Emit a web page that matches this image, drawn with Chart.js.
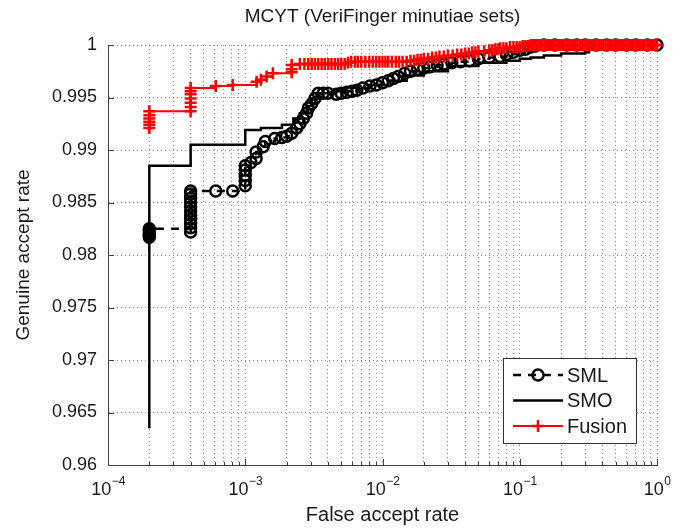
<!DOCTYPE html>
<html>
<head>
<meta charset="utf-8">
<title>MCYT ROC</title>
<script src="https://cdn.jsdelivr.net/npm/chart.js@4.4.1/dist/chart.umd.min.js"></script>
<style>
  html, body { margin: 0; padding: 0; background: #fff; }
  #wrap { width: 684px; height: 531px; }
</style>
</head>
<body>
<div id="wrap"><canvas id="rocChart" width="684" height="531"></canvas></div>
<script>
// --- data (false accept rate / genuine accept rate) ---
const smlFar = [2e-4, 2e-4, 2e-4, 2e-4, 2e-4,
  4e-4, 4e-4, 4e-4, 4e-4, 4e-4, 4e-4, 4e-4, 4e-4, 4e-4, 4e-4, 4e-4,
  6.1e-4, 8.1e-4, 1e-3, 1e-3, 1e-3, 1e-3, 1e-3,
  1.1e-3, 1.2e-3, 1.2e-3, 1.35e-3, 1.4e-3, 1.64e-3, 1.85e-3, 2.0e-3, 2.18e-3, 2.37e-3, 2.5e-3,
  2.65e-3, 2.8e-3, 2.88e-3, 3.05e-3, 3.22e-3, 3.4e-3, 3.7e-3, 4.0e-3, 4.6e-3, 5.0e-3, 5.5e-3,
  6.0e-3, 6.5e-3, 7.2e-3, 8.1e-3, 9e-3, 1e-2, 1.1e-2, 1.2e-2, 1.3e-2, 1.45e-2, 1.6e-2, 1.8e-2,
  2.0e-2, 2.2e-2, 2.5e-2, 2.8e-2, 3.2e-2, 3.7e-2, 4.3e-2, 5e-2, 6e-2, 7.2e-2, 8e-2, 9e-2, 0.1,
  0.11, 0.12, 0.13, 0.15, 0.18, 0.22, 0.26, 0.3, 0.36, 0.43, 0.5, 0.6, 0.7, 0.85, 1];
const smlGar = [0.9817, 0.9819, 0.9821, 0.9823, 0.9825,
  0.9822, 0.9826, 0.9830, 0.9834, 0.9838, 0.9842, 0.9846, 0.9850, 0.9854, 0.9858, 0.9861,
  0.9861, 0.9861, 0.9866, 0.9871, 0.9876, 0.9881, 0.9885,
  0.9888, 0.9892, 0.9898, 0.9903, 0.9908, 0.9911, 0.9912, 0.9913, 0.9916, 0.9921, 0.9925,
  0.9930, 0.9935, 0.9940, 0.9944, 0.9949, 0.9954, 0.9954, 0.9954, 0.9953, 0.9954, 0.9955,
  0.9956, 0.9957, 0.9959, 0.9961, 0.9962, 0.9964, 0.9966, 0.9968, 0.9970, 0.9973, 0.9975, 0.9977,
  0.9978, 0.9979, 0.9981, 0.9982, 0.9983, 0.9984, 0.9985, 0.9987, 0.9988, 0.9989, 0.9991, 0.9993, 0.9995,
  0.9996, 0.9998, 0.9999, 1, 1, 1, 1, 1, 1, 1, 1, 1, 1, 1, 1];

const smoFar = [2e-4, 2e-4, 4e-4, 1e-3, 1.3e-3, 1.85e-3, 2.24e-3, 2.5e-3, 2.8e-3, 3.05e-3, 3.3e-3,
  4.5e-3, 6e-3, 8e-3, 1.1e-2, 1.5e-2, 2e-2, 3e-2, 5e-2, 8e-2, 0.1, 0.12, 0.15, 0.2, 0.3, 0.32, 1];
const smoGar = [0.9635, 0.9885, 0.9905, 0.9919, 0.9921, 0.9924, 0.9930, 0.9935, 0.9942, 0.9948, 0.9954,
  0.9956, 0.9959, 0.9962, 0.9966, 0.9971, 0.9975, 0.9980, 0.9983, 0.9985, 0.9987, 0.9988, 0.9990, 0.9992, 0.9993, 1, 1];

const fusFar = [
  2e-4, 2e-4, 2e-4, 2e-4, 2e-4, 2e-4,
  4e-4, 4e-4, 4e-4, 4e-4, 4e-4, 4e-4, 4e-4,
  6.1e-4, 8.1e-4, 1.21e-3, 1.3e-3, 1.43e-3, 1.59e-3, 2.18e-3, 2.18e-3, 2.18e-3,
  2.5e-3, 2.7e-3, 2.88e-3, 3.05e-3, 3.22e-3, 3.4e-3, 3.6e-3, 3.8e-3, 4.03e-3, 4.25e-3, 4.5e-3, 4.75e-3,
  5e-3, 5.3e-3, 5.6e-3, 5.9e-3, 6.3e-3, 6.6e-3, 7e-3, 7.5e-3, 8e-3, 8.5e-3, 9e-3, 9.5e-3,
  1e-2, 1.05e-2, 1.1e-2, 1.17e-2, 1.25e-2, 1.32e-2, 1.4e-2, 1.5e-2, 1.6e-2, 1.7e-2, 1.8e-2, 1.9e-2, 2e-2,
  2.15e-2, 2.3e-2, 2.45e-2, 2.6e-2, 2.8e-2, 3e-2, 3.25e-2, 3.5e-2, 3.75e-2, 4e-2, 4.25e-2,
  4.5e-2, 4.75e-2, 5e-2, 5.5e-2, 6e-2, 6.3e-2, 6.6e-2, 6.9e-2, 7.2e-2, 7.6e-2, 8e-2,
  8.5e-2, 9e-2, 9.5e-2, 0.1, 0.105, 0.11, 0.115,
  0.12, 0.125, 0.13, 0.135, 0.14, 0.146, 0.152, 0.158, 0.164, 0.171, 0.178,
  0.185, 0.192, 0.2, 0.208, 0.216, 0.225, 0.234, 0.243, 0.253, 0.263, 0.274,
  0.285, 0.296, 0.308, 0.32, 0.333, 0.346, 0.36, 0.375, 0.39, 0.405, 0.421,
  0.438, 0.456, 0.474, 0.493, 0.513, 0.533, 0.554, 0.577, 0.6, 0.624, 0.649,
  0.675, 0.702, 0.73, 0.759, 0.79, 0.82, 0.855, 0.89, 0.925, 0.96, 1];
const fusGar = [
  0.9921, 0.9924, 0.9927, 0.9930, 0.9933, 0.9937,
  0.9937, 0.9941, 0.9945, 0.9949, 0.9953, 0.9956, 0.9959,
  0.9961, 0.9962, 0.9965, 0.9967, 0.9970, 0.9973, 0.9974, 0.9977, 0.9981,
  0.9982, 0.9982, 0.9982, 0.9982, 0.9982, 0.9982, 0.9982, 0.9982, 0.9982, 0.9982, 0.9982, 0.9982,
  0.9982, 0.9982, 0.9983, 0.9984, 0.9984, 0.9984, 0.9984, 0.9984, 0.9984, 0.9984, 0.9984, 0.9984,
  0.9984, 0.9984, 0.9984, 0.9984, 0.9984, 0.9984, 0.9984, 0.9984, 0.9985, 0.9985, 0.9986, 0.9986, 0.9987,
  0.9987, 0.9988, 0.9988, 0.9989, 0.9989, 0.9990, 0.9990, 0.9991, 0.9991, 0.9992, 0.9992,
  0.9993, 0.9993, 0.9994, 0.9994, 0.9995, 0.9995, 0.9996, 0.9996, 0.9997, 0.9997, 0.9997,
  0.9998, 0.9998, 0.9998, 0.9998, 0.9999, 0.9999, 0.9999,
  1, 1, 1, 1, 1, 1, 1, 1, 1, 1, 1,
  1, 1, 1, 1, 1, 1, 1, 1, 1, 1, 1,
  1, 1, 1, 1, 1, 1, 1, 1, 1, 1, 1,
  1, 1, 1, 1, 1, 1, 1, 1, 1, 1, 1,
  1, 1, 1, 1, 1, 1, 1, 1, 1, 1, 1];

const seriesNames = ['SML', 'SMO', 'Fusion'];

// axis ticks
const xMajorValues = [1e-4, 1e-3, 1e-2, 1e-1, 1];
const xExponents = ['\u22124', '\u22123', '\u22122', '\u22121', '0'];
const yTickValues = [0.96, 0.965, 0.97, 0.975, 0.98, 0.985, 0.99, 0.995, 1];
const yTickLabels = ['0.96', '0.965', '0.97', '0.975', '0.98', '0.985', '0.99', '0.995', '1'];

// minor grid positions 1..9 x each decade
const xGridValues = [];
xMajorValues.slice(0, -1).forEach(d => {
  for (let m = 1; m <= 9; m++) xGridValues.push(m * d);
});
xGridValues.push(1);

const FONT = '"Liberation Sans", Arial, Helvetica, sans-serif';
const TEXT = '#1a1a1a';
const AXIS = '#404040';
const GRID = 'rgba(0,0,0,0.45)';

const toPoints = (xs, ys) => xs.map((x, i) => ({ x: x, y: ys[i] }));

// x tick labels as 10 with a raised exponent
const expLabels = {
  id: 'expLabels',
  afterDraw(chart) {
    const ctx = chart.ctx;
    const xs = chart.scales.x;
    const base = xs.top + 30;
    ctx.save();
    ctx.fillStyle = TEXT;
    ctx.textAlign = 'left';
    ctx.textBaseline = 'alphabetic';
    xMajorValues.forEach((v, i) => {
      const px = xs.getPixelForValue(v);
      ctx.font = '18px ' + FONT;
      const wb = ctx.measureText('10').width;
      ctx.font = '12px ' + FONT;
      const we = ctx.measureText(xExponents[i]).width;
      const x0 = px - (wb + we) / 2;
      ctx.font = '18px ' + FONT;
      ctx.fillText('10', x0, base);
      ctx.font = '12px ' + FONT;
      ctx.fillText(xExponents[i], x0 + wb + 0.5, base - 10);
    });
    ctx.restore();
  }
};

// small inward tick marks on the left and bottom axes
const innerTicks = {
  id: 'innerTicks',
  afterDatasetsDraw(chart) {
    const { ctx, chartArea: a, scales: { x, y } } = chart;
    ctx.save();
    ctx.strokeStyle = AXIS;
    ctx.lineWidth = 1;
    ctx.beginPath();
    x.ticks.forEach(t => {
      const px = Math.round(x.getPixelForValue(t.value)) + 0.5;
      const len = xMajorValues.includes(t.value) ? 6 : 3;
      ctx.moveTo(px, a.bottom);
      ctx.lineTo(px, a.bottom - len);
    });
    y.ticks.forEach(t => {
      const py = Math.round(y.getPixelForValue(t.value)) + 0.5;
      ctx.moveTo(a.left, py);
      ctx.lineTo(a.left + 6, py);
    });
    ctx.stroke();
    ctx.restore();
  }
};

// boxed legend in the lower right of the plot
const boxLegend = {
  id: 'boxLegend',
  afterDraw(chart) {
    const { ctx, chartArea: a } = chart;
    const w = 133, h = 85;
    const bx = a.right - 21 - w;
    const by = a.bottom - 22 - h;
    ctx.save();
    ctx.fillStyle = '#fff';
    ctx.fillRect(bx, by, w, h);
    ctx.strokeStyle = '#333';
    ctx.lineWidth = 1;
    ctx.strokeRect(bx + 0.5, by + 0.5, w, h);

    chart.data.datasets.forEach((ds, i) => {
      const cy = by + 17 + i * 25.5;
      const x1 = bx + 10, x2 = bx + 60, mx = bx + 35;
      ctx.strokeStyle = ds.borderColor;
      ctx.lineWidth = ds.borderWidth;
      ctx.setLineDash(ds.borderDash || []);
      ctx.beginPath();
      ctx.moveTo(x1, cy);
      ctx.lineTo(x2, cy);
      ctx.stroke();
      ctx.setLineDash([]);
      if (ds.pointRadius > 0) {
        ctx.lineWidth = ds.pointBorderWidth;
        ctx.beginPath();
        if (ds.pointStyle === 'circle') {
          ctx.arc(mx, cy, ds.pointRadius, 0, Math.PI * 2);
        } else {
          ctx.moveTo(mx - ds.pointRadius, cy);
          ctx.lineTo(mx + ds.pointRadius, cy);
          ctx.moveTo(mx, cy - ds.pointRadius);
          ctx.lineTo(mx, cy + ds.pointRadius);
        }
        ctx.stroke();
      }
      ctx.fillStyle = TEXT;
      ctx.font = '20px ' + FONT;
      ctx.textAlign = 'left';
      ctx.textBaseline = 'middle';
      ctx.fillText(ds.label, bx + 64, cy + 1);
    });
    ctx.restore();
  }
};

Chart.defaults.font.family = FONT;
Chart.defaults.color = TEXT;

new Chart(document.getElementById('rocChart'), {
  type: 'line',
  data: {
    datasets: [
      {
        label: seriesNames[0],
        data: toPoints(smlFar, smlGar),
        borderColor: '#000',
        borderWidth: 2.5,
        borderDash: [8, 7],
        stepped: 'before',
        pointStyle: 'circle',
        pointRadius: 5.5,
        pointBorderWidth: 2.5,
        pointBorderColor: '#000',
        pointBackgroundColor: 'rgba(0,0,0,0)',
        fill: false,
        clip: false,
        order: 1
      },
      {
        label: seriesNames[1],
        data: toPoints(smoFar, smoGar),
        borderColor: '#000',
        borderWidth: 2.5,
        stepped: 'before',
        pointRadius: 0,
        fill: false,
        clip: false,
        order: 2
      },
      {
        label: seriesNames[2],
        data: toPoints(fusFar, fusGar),
        borderColor: '#ff0000',
        borderWidth: 2,
        stepped: 'before',
        pointStyle: 'cross',
        pointRadius: 6,
        pointBorderWidth: 2.5,
        pointBorderColor: '#ff0000',
        fill: false,
        clip: false,
        order: 0
      }
    ]
  },
  options: {
    responsive: false,
    animation: false,
    events: [],
    layout: { padding: { left: 0, right: 27, top: 0, bottom: 0 } },
    plugins: {
      legend: { display: false },
      tooltip: { enabled: false },
      title: {
        display: true,
        fullSize: false,
        text: 'MCYT (VeriFinger minutiae sets)',
        color: TEXT,
        font: { size: 19, weight: 'normal' },
        padding: { top: 5, bottom: 17.2 }
      }
    },
    scales: {
      x: {
        type: 'logarithmic',
        min: 1e-4,
        max: 1,
        afterBuildTicks: s => { s.ticks = xGridValues.map(v => ({ value: v })); },
        afterFit: s => { s.height = 66; },
        ticks: { display: false, autoSkip: false },
        grid: { color: GRID, lineWidth: 1, drawTicks: false },
        border: { display: true, color: AXIS, width: 1, dash: [1, 3] },
        title: {
          display: true,
          text: 'False accept rate',
          color: TEXT,
          font: { size: 20 },
          padding: { top: 0, bottom: 4 }
        }
      },
      y: {
        min: 0.96,
        max: 1,
        afterBuildTicks: s => { s.ticks = yTickValues.map(v => ({ value: v })); },
        afterFit: s => { s.width = 108; },
        ticks: {
          autoSkip: false,
          padding: 11,
          color: TEXT,
          font: { size: 18 },
          callback: (v, i) => yTickLabels[i]
        },
        grid: { color: GRID, lineWidth: 1, drawTicks: false },
        border: { display: true, color: AXIS, width: 1, dash: [1, 3] },
        title: {
          display: true,
          text: 'Genuine accept rate',
          color: TEXT,
          font: { size: 19 },
          padding: { top: 12, bottom: 0 }
        }
      }
    }
  },
  plugins: [innerTicks, expLabels, boxLegend]
});
</script>
</body>
</html>
